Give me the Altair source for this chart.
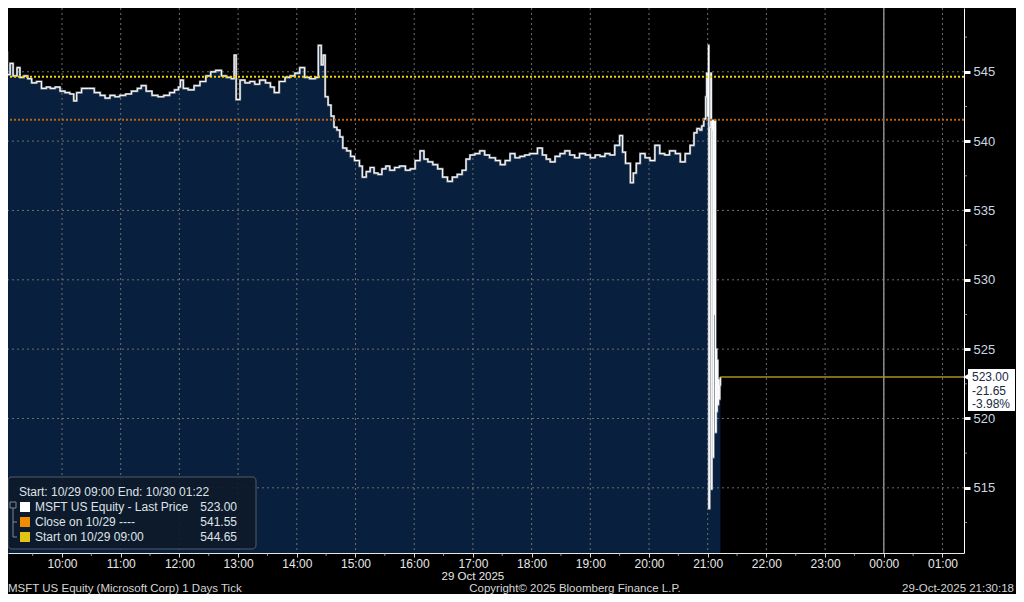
import altair as alt
import pandas as pd

FONT = "Liberation Sans"
DAY1 = "2025-10-29"
DAY2 = "2025-10-30"

# ---- price ticks (MSFT, 29 Oct 2025) ----
tick_times = [
    "09:00", "09:02", "09:04", "09:07", "09:10", "09:14", "09:17", "09:21", "09:25", "09:29",
    "09:34", "09:39", "09:44", "09:48", "09:53", "09:58", "10:03", "10:08", "10:12", "10:15",
    "10:20", "10:27", "10:33", "10:39", "10:44", "10:49", "10:54", "10:59", "11:05", "11:11",
    "11:17", "11:21", "11:26", "11:32", "11:38", "11:44", "11:50", "11:55", "11:59", "12:01",
    "12:04", "12:09", "12:15", "12:21", "12:27", "12:32", "12:37", "12:43", "12:48", "12:53",
    "12:56", "12:58", "13:02", "13:07", "13:12", "13:17", "13:22", "13:28", "13:33", "13:37",
    "13:42", "13:48", "13:53", "13:58", "14:03", "14:08", "14:13", "14:19", "14:22", "14:25",
    "14:27", "14:29", "14:32", "14:35", "14:38", "14:41", "14:44", "14:47", "14:51", "14:55",
    "14:59", "15:04", "15:07", "15:11", "15:15", "15:19", "15:23", "15:27", "15:31", "15:35",
    "15:40", "15:45", "15:51", "15:56", "16:01", "16:06", "16:10", "16:14", "16:19", "16:24",
    "16:29", "16:34", "16:39", "16:44", "16:49", "16:53", "16:57", "17:02", "17:07", "17:12",
    "17:17", "17:23", "17:28", "17:33", "17:38", "17:43", "17:48", "17:53", "17:58", "18:06",
    "18:11", "18:15", "18:19", "18:24", "18:29", "18:34", "18:39", "18:44", "18:49", "18:55",
    "19:00", "19:05", "19:10", "19:15", "19:20", "19:25", "19:30", "19:33", "19:36", "19:41",
    "19:44", "19:47", "19:51", "19:56", "20:01", "20:06", "20:11", "20:16", "20:21", "20:27",
    "20:32", "20:37", "20:42", "20:46", "20:49", "20:52", "20:54", "20:56", "20:58", "20:59",
    "21:00", "21:00:50", "21:01:10", "21:02", "21:03:20", "21:03:40", "21:04:20", "21:05", "21:05:30", "21:06",
    "21:06:40", "21:07:20", "21:08", "21:08:40", "21:09:10", "21:09:40", "21:10:20", "21:11", "21:11:40", "21:12:20",
    "21:13",
]
tick_prices = [
    545.3, 546.4, 544.8, 545.6, 544.7, 545.3, 544.6, 544.7, 544.5, 544.2,
    544.3, 543.8, 543.9, 543.8, 543.9, 543.6, 543.5, 543.4, 542.9, 543.5,
    543.8, 543.8, 543.5, 543.3, 543.1, 543.3, 543.2, 543.3, 543.4, 543.6,
    543.8, 544.0, 543.6, 543.3, 543.2, 543.3, 543.5, 543.7, 543.9, 544.4,
    543.8, 543.7, 544.0, 544.3, 544.7, 545.0, 545.1, 544.7, 544.6, 544.5,
    546.2, 543.0, 544.4, 544.2, 544.3, 544.1, 544.4, 544.2, 543.9, 543.5,
    544.3, 544.6, 544.7, 544.9, 545.3, 544.6, 544.5, 544.6, 546.9, 545.5,
    546.2, 543.2, 542.6, 541.8, 541.0, 540.8, 540.3, 539.5, 539.3, 538.9,
    538.6, 538.2, 537.4, 537.8, 538.1, 537.7, 537.6, 538.0, 538.2, 537.9,
    538.1, 538.2, 537.9, 538.0, 538.6, 539.3, 538.7, 538.5, 538.3, 538.0,
    537.4, 537.1, 537.4, 537.6, 537.9, 538.7, 539.0, 539.1, 539.3, 539.0,
    538.8, 538.6, 538.3, 538.6, 539.1, 538.8, 538.9, 539.0, 539.1, 539.5,
    539.0, 538.7, 538.5, 538.9, 539.1, 539.3, 539.0, 538.8, 539.1, 539.0,
    538.8, 539.0, 538.9, 539.1, 539.0, 539.7, 540.4, 539.2, 538.4, 537.0,
    537.7, 538.4, 539.1, 538.8, 538.6, 539.7, 539.1, 539.0, 539.3, 539.1,
    538.5, 539.1, 539.7, 540.6, 540.9, 540.8, 541.1, 541.6, 543.2, 544.9,
    541.8, 546.9, 513.5, 541.0, 544.9, 514.9, 540.8, 541.5, 517.2, 541.5,
    527.5, 541.5, 519.0, 525.0, 520.5, 524.2, 521.0, 522.8, 521.4, 522.4,
    523.0,
]

last_price = 523.00
net_change = "-21.65"
pct_change = "-3.98%"
close_prev = 541.55
start_price = 544.65

y_ticks = [515, 520, 525, 530, 535, 540, 545]
y_minor = [512.5, 517.5, 522.5, 527.5, 532.5, 537.5, 542.5, 547.5]
hour_ticks = ["10:00", "11:00", "12:00", "13:00", "14:00", "15:00", "16:00", "17:00",
              "18:00", "19:00", "20:00", "21:00", "22:00", "23:00", "00:00", "01:00"]
half_hours = ["09:30", "10:30", "11:30", "12:30", "13:30", "14:30", "15:30", "16:30",
              "17:30", "18:30", "19:30", "20:30", "21:30", "22:30", "23:30", "00:30"]
day_break = "00:00"
date_label_at = "17:00"

y_min, y_max = 510.3, 549.6


def stamp(hm):
    day = DAY1 if int(hm[:2]) >= 9 else DAY2
    return f"{day}T{hm if len(hm) > 5 else hm + ':00'}"


def dt(hm):
    h, m = int(hm[:2]), int(hm[3:5])
    return alt.DateTime(year=2025, month=10, date=29 if h >= 9 else 30, hours=h, minutes=m)


prices = pd.DataFrame({"t": [stamp(t) for t in tick_times], "p": tick_prices})
last_t = stamp(tick_times[-1])

xscale = alt.Scale(domain=[alt.DateTime(year=2025, month=10, date=29, hours=9, minutes=4, seconds=48),
                           alt.DateTime(year=2025, month=10, date=30, hours=1, minutes=22)])
yscale = alt.Scale(domain=[y_min, y_max], nice=False, zero=False)

XAXIS = alt.Axis(orient="bottom", format="%H:%M", values=[dt(h) for h in hour_ticks],
                 grid=False, tickSize=4, tickColor="#d8d8d8", domainColor="#e6e6e6",
                 labelColor="#e8e8e8", labelFontSize=12, labelFont=FONT, labelPadding=1,
                 labelFlush=False, labelOverlap=False, title=None)
YAXIS = alt.Axis(orient="right", values=y_ticks, grid=False, tickSize=6, tickWidth=3,
                 tickColor="#ffffff", domainColor="#ffffff", labelColor="#cdd6e0",
                 labelFontSize=13, labelFont=FONT, labelPadding=3, title=None)

X = lambda f: alt.X(f, type="temporal", scale=xscale, title=None)
Y = lambda f: alt.Y(f, type="quantitative", scale=yscale, title=None)

NAVY = "#08203d"

area = alt.Chart(prices).mark_area(interpolate="step-after", color=NAVY, clip=True).encode(
    x=alt.X("t", type="temporal", scale=xscale, axis=XAXIS, title=None),
    y=alt.Y("p", type="quantitative", scale=yscale, axis=YAXIS, title=None),
    y2=alt.datum(y_min),
)

hgrid = alt.Chart(pd.DataFrame({"p": y_ticks})).mark_rule(
    color="#6e6e6e", strokeDash=[2, 3], strokeWidth=1).encode(y=Y("p"))
vgrid = alt.Chart(pd.DataFrame({"t": [stamp(h) for h in hour_ticks]})).mark_rule(
    color="#6e6e6e", strokeDash=[2, 3], strokeWidth=1).encode(x=X("t"))
daysep = alt.Chart(pd.DataFrame({"t": [stamp(day_break)]})).mark_rule(
    color="#8a8a8a", strokeWidth=1.5).encode(x=X("t"))

price_shadow = alt.Chart(prices).mark_line(interpolate="step-after", color="#8e949c",
                                           strokeWidth=2.2, clip=True).encode(x=X("t"), y=Y("p"))
price_line = alt.Chart(prices).mark_line(interpolate="step-after", color="#ffffff",
                                         strokeWidth=1, clip=True).encode(x=X("t"), y=Y("p"))

start_line = alt.Chart(pd.DataFrame({"p": [start_price]})).mark_rule(
    color="#f2d400", strokeDash=[2, 2], strokeWidth=2).encode(y=Y("p"))
close_line = alt.Chart(pd.DataFrame({"p": [close_prev]})).mark_rule(
    color="#b8640e", strokeDash=[2, 2], strokeWidth=2).encode(y=Y("p"))
last_line = alt.Chart(pd.DataFrame({"t0": [last_t], "t1": [stamp("01:22")], "p": [last_price]})).mark_rule(
    color="#a89022", strokeWidth=1.5).encode(x=X("t0"), x2="t1", y=Y("p"))

yminor = alt.Chart(pd.DataFrame({"p": y_minor})).mark_tick(
    orient="horizontal", size=3, thickness=1, color="#cfcfcf", xOffset=1.5, clip=False
).encode(x=alt.value(956), y=Y("p"))
xminor = alt.Chart(pd.DataFrame({"t": [stamp(h) for h in half_hours]})).mark_tick(
    orient="vertical", size=3, thickness=1, color="#cfcfcf", yOffset=1.5, clip=False
).encode(x=X("t"), y=alt.value(545))


def txt(s, x, y, align="left", color="#dfe3e8", size=12, baseline="middle"):
    return alt.Chart(pd.DataFrame({"s": [s]})).mark_text(
        align=align, baseline=baseline, color=color, fontSize=size, font=FONT
    ).encode(x=alt.value(x), y=alt.value(y), text="s:N")


# legend box
leg_box = alt.Chart(pd.DataFrame({"a": [0]})).mark_rect(
    fill="#0e1a29", fillOpacity=0.9, stroke="#3d4756", strokeWidth=1.5, cornerRadius=4
).encode(x=alt.value(0), x2=alt.value(248), y=alt.value(469), y2=alt.value(541))
tree_v = alt.Chart(pd.DataFrame({"a": [0]})).mark_rule(color="#7d8896", strokeWidth=1).encode(
    x=alt.value(5), y=alt.value(500), y2=alt.value(529))
tree_h1 = alt.Chart(pd.DataFrame({"a": [0]})).mark_rule(color="#7d8896", strokeWidth=1).encode(
    x=alt.value(5), x2=alt.value(9), y=alt.value(514))
tree_h2 = alt.Chart(pd.DataFrame({"a": [0]})).mark_rule(color="#7d8896", strokeWidth=1).encode(
    x=alt.value(5), x2=alt.value(9), y=alt.value(529))
tree_box = alt.Chart(pd.DataFrame({"a": [0]})).mark_rect(
    fill="#0e1a29", stroke="#7d8896", strokeWidth=1).encode(
    x=alt.value(2), x2=alt.value(8), y=alt.value(494), y2=alt.value(500))


def swatch(color, y):
    return alt.Chart(pd.DataFrame({"a": [0]})).mark_square(
        size=100, color=color, opacity=1, filled=True).encode(x=alt.value(17), y=alt.value(y))


legend = [
    leg_box, tree_v, tree_h1, tree_h2, tree_box,
    txt("Start: 10/29 09:00 End: 10/30 01:22", 11, 484),
    swatch("#ffffff", 499), txt("MSFT US Equity - Last Price", 27, 499), txt(f"{last_price:.2f}", 229, 499, align="right"),
    swatch("#f08c00", 514), txt("Close on 10/29 ----", 27, 514), txt(f"{close_prev:.2f}", 229, 514, align="right"),
    swatch("#e2c412", 529), txt("Start on 10/29 09:00", 27, 529), txt(f"{start_price:.2f}", 229, 529, align="right"),
]

# last price tag on the right axis
tag_box = alt.Chart(pd.DataFrame({"a": [0]})).mark_rect(fill="#ffffff").encode(
    x=alt.value(960), x2=alt.value(1007), y=alt.value(361), y2=alt.value(403))
tag_ptr = alt.Chart(pd.DataFrame({"p": [last_price]})).mark_point(
    shape="triangle-left", size=40, filled=True, color="#ffffff", opacity=1).encode(
    x=alt.value(958), y=Y("p"))
tag = [
    tag_box, tag_ptr,
    txt(f"{last_price:.2f}", 964, 369, color="#1a2a44", size=12),
    txt(net_change, 964, 382.5, color="#1a2a44", size=12),
    txt(pct_change, 964, 396, color="#1a2a44", size=12),
]

date_lbl = alt.Chart(pd.DataFrame({"t": [stamp(date_label_at)], "s": ["29 Oct 2025"]})).mark_text(
    align="center", baseline="middle", color="#e8e8e8", fontSize=11.5, font=FONT
).encode(x=X("t"), y=alt.value(569), text="s:N")

footer = [
    txt("MSFT US Equity (Microsoft Corp) 1 Days Tick", 0, 586, color="#d6d6d6", size=11.5, baseline="bottom"),
    txt("Copyright\u00a9 2025 Bloomberg Finance L.P.", 567, 586, align="center", color="#d6d6d6", size=11.5, baseline="bottom"),
    txt("29-Oct-2025 21:30:18", 1006, 586, align="right", color="#d6d6d6", size=11.5, baseline="bottom"),
]

chart = alt.layer(
    area, hgrid, vgrid, daysep, price_shadow, price_line, start_line, close_line, last_line,
    yminor, xminor, *legend, *tag, date_lbl, *footer
).properties(
    width=956, height=545,
    autosize=alt.AutoSizeParams(type="none"),
    padding={"left": 0, "top": 0, "right": 52, "bottom": 41},
).configure(background="#000000").configure_view(stroke=None)

chart.save("out.html", embed_options={"renderer": "svg", "actions": False})
